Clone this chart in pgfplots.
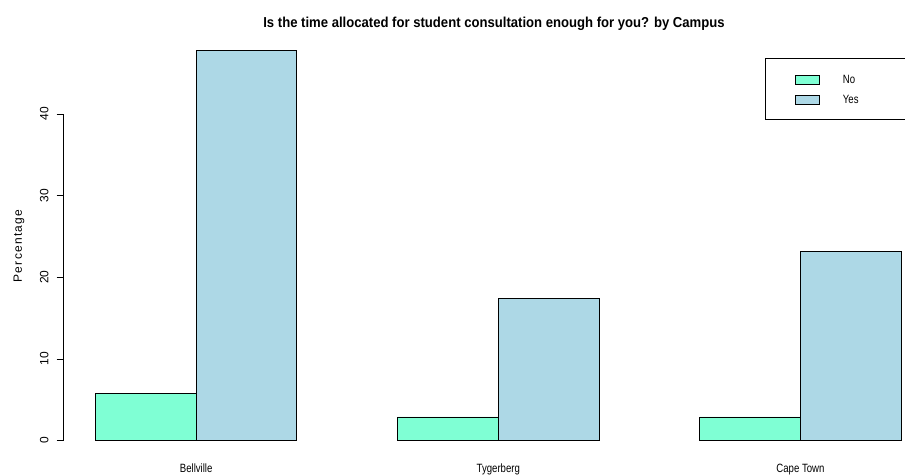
\documentclass[border=0pt]{standalone}
\usepackage{pgfplots}
\pgfplotsset{compat=1.18}
\usepackage{fontspec}
\setmainfont{Liberation Sans}
\newfontfamily\narrowsans[FakeStretch=0.8]{Liberation Sans}
\newfontfamily\titlesans[FakeStretch=0.91]{Liberation Sans}
\newfontfamily\spacedsans[LetterSpace=11]{Liberation Sans}
\definecolor{noclr}{HTML}{7FFFD4}
\definecolor{yesclr}{HTML}{ADD8E6}

\begin{document}
\begin{tikzpicture}[x=1bp,y=1bp]
\useasboundingbox (0,0) rectangle (905,475);
\clip (0,0) rectangle (905,475);
\begin{axis}[
  at={(62.77,18)}, anchor=south west,
  scale only axis, width=870.2bp, height=425.6bp,
  xmin=0.68, xmax=9.32, ymin=-2.41, ymax=49.71,
  axis line style={draw=none},
  xtick={2,5,8}, xticklabels={Bellville,Tygerberg,Cape Town},
  x tick style={draw=none},
  xticklabel style={font=\narrowsans\fontsize{12bp}{14bp}\selectfont, anchor=base, inner sep=0pt, yshift=-5.8bp},
  ytick={0,10,20,30,40}, ytick pos=left, tick align=outside,
  major tick length=6.5bp,
  y tick style={black, line width=0.8bp},
  yticklabel style={font=\fontsize{12bp}{14bp}\selectfont, rotate=90, anchor=south, inner sep=0pt},
  yticklabel shift=8bp,
  /pgf/number format/assume math mode=true,
  clip=false,
]
% y axis runs from the first to the last tick only
\draw[line width=0.8bp] (axis cs:0.68,0) -- (axis cs:0.68,40);
% No
\addplot[ybar, bar width=1, bar shift=-0.5, fill=noclr, draw=black, line width=0.8bp]
  coordinates {(2,5.80) (5,2.90) (8,2.90)};
% Yes
\addplot[ybar, bar width=1, bar shift=0.5, fill=yesclr, draw=black, line width=0.8bp]
  coordinates {(2,47.83) (5,17.39) (8,23.19)};
\end{axis}

% title and y label
\node[anchor=base, inner sep=0pt] at (494,447.3)
  {\titlesans\bfseries\fontsize{14.4bp}{16bp}\selectfont Is the time allocated for student consultation enough for you? by Campus};
\node[rotate=90, inner sep=0pt] at (19,229)
  {\spacedsans\fontsize{12bp}{14bp}\selectfont Percentage};

% legend
\draw[line width=0.8bp] (1000,416.7) -- (765.7,416.7) -- (765.7,355.7) -- (1000,355.7);
\draw[line width=0.8bp, fill=noclr] (795.7,400) rectangle (819,390.7);
\draw[line width=0.8bp, fill=yesclr] (795.7,380) rectangle (819,371);
\node[anchor=base west, inner sep=0pt] at (842.7,391)
  {\narrowsans\fontsize{12bp}{14bp}\selectfont No};
\node[anchor=base west, inner sep=0pt] at (842.7,371)
  {\narrowsans\fontsize{12bp}{14bp}\selectfont Yes};
\end{tikzpicture}
\end{document}
